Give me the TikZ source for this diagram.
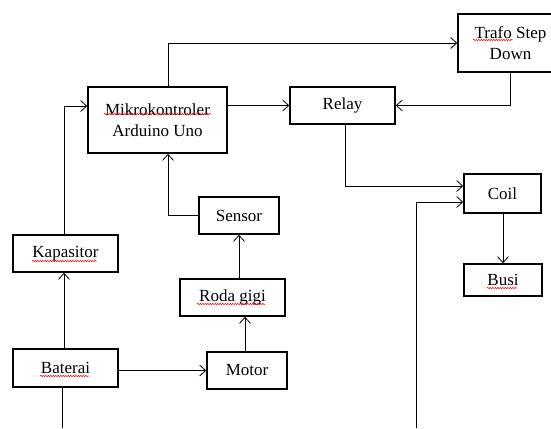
\documentclass[tikz,border=0pt]{standalone}
\usepackage{fontspec}
\setmainfont{Liberation Serif}
\usepackage{xcolor}
\usetikzlibrary{arrows.meta,decorations.pathmorphing}

\begin{document}
\begin{tikzpicture}[x=1pt,y=-1pt,
  blok/.style={draw, line width=1.6pt, align=center, inner sep=0pt,
    font=\fontsize{17}{21}\selectfont},
  panah/.style={line width=0.8pt, -{Straight Barb[length=6pt,width=11pt]}},
  salah/.style={red, line width=0.5pt, decorate,
    decoration={snake, amplitude=0.7pt, segment length=2.5pt}}]
\useasboundingbox (0,0) rectangle (551,428);

% blok
\node[blok, minimum width=139pt, minimum height=66pt] (mikro) at (157.5,120) {Mikrokontroler\\Arduino Uno};
\node[blok, minimum width=105pt, minimum height=58pt] (trafo) at (510.5,43) {Trafo Step\\Down};
\node[blok, minimum width=105pt, minimum height=37pt] (relay) at (342.5,105.5) {Relay};
\node[blok, minimum width=77pt, minimum height=39pt] (coil) at (502.5,193.5) {Coil};
\node[blok, minimum width=78pt, minimum height=32pt] (busi) at (503,280) {Busi};
\node[blok, minimum width=80pt, minimum height=37pt] (sensor) at (239,215.5) {Sensor};
\node[blok, minimum width=105pt, minimum height=37pt] (kapasitor) at (65.5,253.5) {Kapasitor};
\node[blok, minimum width=105pt, minimum height=37pt] (roda) at (232.5,297.5) {Roda gigi};
\node[blok, minimum width=105pt, minimum height=38pt] (baterai) at (65.5,368) {Baterai};
\node[blok, minimum width=80pt, minimum height=37pt] (motor) at (247,370.5) {Motor};

\coordinate (ujung1) at (62,428);
\coordinate (ujung2) at (416,428);

% panah
\draw[panah] ([xshift=10.5pt]mikro.north) |- (trafo.west);
\draw[panah] (mikro.east |- relay.west) -- (relay.west);
\draw[panah] (trafo.south) |- (relay.east);
\draw[panah] ([xshift=2.5pt]relay.south) |- ([yshift=7.5pt]coil.west);
\draw[panah] (ujung2) |- ([yshift=-8.5pt]coil.west);
\draw[panah] (coil.south -| busi.north) -- (busi.north);
\draw[panah] (sensor.west) -| ([xshift=10.5pt]mikro.south);
\draw[panah] (roda.north -| sensor.south) -- (sensor.south);
\draw[panah] ([xshift=-2pt]motor.north) -- ([xshift=-2pt]motor.north |- roda.south);
\draw[panah] (baterai.east |- motor.west) -- (motor.west);
\draw[panah] ([xshift=-1.5pt]baterai.north) -- ([xshift=-1.5pt]baterai.north |- kapasitor.south);
\draw[panah] ([xshift=-1.5pt]kapasitor.north) |- ([yshift=14pt]mikro.west);
\draw[line width=0.8pt] (ujung1) -- (ujung1 |- baterai.south);

% garis ejaan
\draw[salah] (104,114) -- (211,114);
\draw[salah] (473,40) -- (513,40);
\draw[salah] (32,261) -- (97,261);
\draw[salah] (40,376) -- (89,376);
\draw[salah] (197,304) -- (265,304);
\draw[salah] (487,288) -- (517,288);
\end{tikzpicture}
\end{document}
